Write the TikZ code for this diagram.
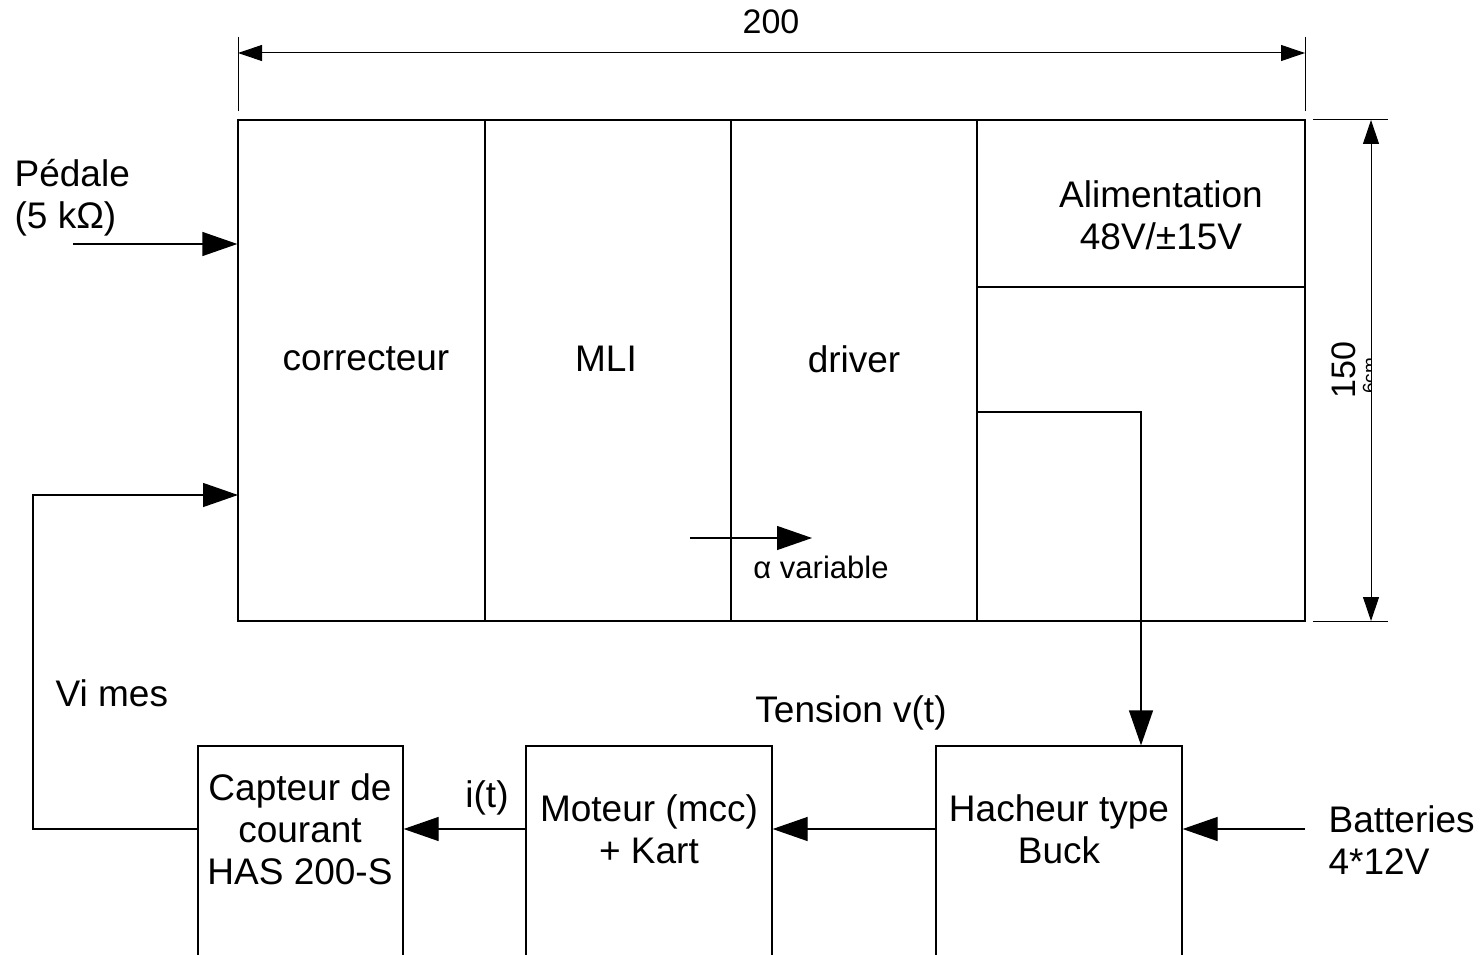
\documentclass[tikz,border=0pt]{standalone}
\usepackage{fontspec}
\setmainfont{Liberation Sans}
\usetikzlibrary{arrows.meta}
\begin{document}
\begin{tikzpicture}[x=1pt,y=-1pt,line width=1.3pt,
  txt/.style={font=\fontsize{37}{42}\selectfont,inner sep=0pt,align=center},
  dimtxt/.style={font=\fontsize{34}{40}\selectfont,inner sep=0pt},
  cell/.style={draw,inner sep=0pt},
  sig/.style={-{Triangle[length=35pt,width=24pt]}},
  dimline/.style={{Triangle[length=24pt,width=16pt]}-{Triangle[length=24pt,width=16pt]},line width=1pt},
  ext/.style={line width=1pt}]
\useasboundingbox[fill=white] (0,0) rectangle (1480,955);
% main block cells
\node[cell,minimum width=247pt,minimum height=501pt] (corr) at (361.5,370.5) {};
\node[cell,minimum width=246pt,minimum height=501pt] (mli) at (608,370.5) {};
\node[cell,minimum width=246pt,minimum height=501pt] (drv) at (854,370.5) {};
\node[cell,minimum width=328pt,minimum height=167pt] (alim) at (1141,203.5) {};
\node[cell,minimum width=328pt,minimum height=334pt] (pow) at (1141,454) {};
\node[txt] (tcorr) at (366,359) {correcteur};
\node[txt] (tmli) at (606,359) {MLI};
\node[txt] (tdrv) at (854,359) {driver};
\node[txt] (talim) at (1161,215) {Alimentation\\48V/±15V};
% bottom boxes
\node[cell,minimum width=205pt,minimum height=229pt] (capt) at (300.5,860.5) {};
\node[cell,minimum width=246pt,minimum height=229pt] (mot) at (649,860.5) {};
\node[cell,minimum width=246pt,minimum height=229pt] (hach) at (1059,860.5) {};
\node[txt] (tcapt) at (300,829) {Capteur de\\courant\\HAS 200-S};
\node[txt] (tmot) at (649,829) {Moteur (mcc)\\+ Kart};
\node[txt] (thach) at (1059,829) {Hacheur type\\Buck};
% labels
\node[txt,align=left,anchor=west] (tped) at (14,198) {Pédale\\(5 kΩ)};
\node[txt,anchor=west] (tvi) at (55,693) {Vi mes};
\node[txt] (tit) at (487,798) {i(t)};
\node[txt] (ttens) at (851,713) {Tension v(t)};
\node[txt,align=left,anchor=west] (tbat) at (1328,840) {Batteries\\4*12V};
\node[font=\fontsize{31}{36}\selectfont,inner sep=0pt] (talpha) at (821,567) {α variable};
% connectors
\coordinate (ped) at (73,244);
\draw[sig] (ped) -- (corr.west |- ped);
\coordinate (fbin) at (238,495);
\coordinate (fbup) at (33,495);
\draw[sig] (capt.west |- tcapt) -| (fbup) -- (fbin);
\draw[sig] (hach.west |- thach) -- (mot.east |- thach);
\draw[sig] (mot.west |- tmot) -- (capt.east |- tmot);
\coordinate (batin) at (1305,829);
\draw[sig] (batin) -- (hach.east |- thach);
\coordinate (tap) at (977,412);
\coordinate (dropx) at (1141,0);
\draw[sig] (tap) -| (hach.north -| dropx);
\coordinate (a1) at (690,538);
\coordinate (a2) at (812,538);
\draw[sig] (a1) -- (a2);
% dimensions
\coordinate (d1t) at (238,37); \coordinate (d1b) at (238,111);
\coordinate (d2t) at (1305,37); \coordinate (d2b) at (1305,111);
\draw[ext] (d1t) -- (d1b);
\draw[ext] (d2t) -- (d2b);
\coordinate (h1) at (238,53); \coordinate (h2) at (1305,53);
\draw[dimline] (h1) -- (h2);
\node[dimtxt] (t200) at (771,22) {200};
\coordinate (e1l) at (1313,120); \coordinate (e1r) at (1388,120);
\coordinate (e2l) at (1313,621); \coordinate (e2r) at (1388,621);
\draw[ext] (e1l) -- (e1r);
\draw[ext] (e2l) -- (e2r);
\coordinate (v1) at (1371,120); \coordinate (v2) at (1371,621);
\draw[dimline] (v1) -- (v2);
\node[dimtxt,rotate=90] (t150) at (1344,370) {150};
\begin{scope}
\clip (1340,300) rectangle (1370,450);
\node[font=\fontsize{19}{22}\selectfont,inner sep=0pt,rotate=90,anchor=base] (t6cm) at (1376,376) {6cm};
\end{scope}
\end{tikzpicture}
\end{document}
